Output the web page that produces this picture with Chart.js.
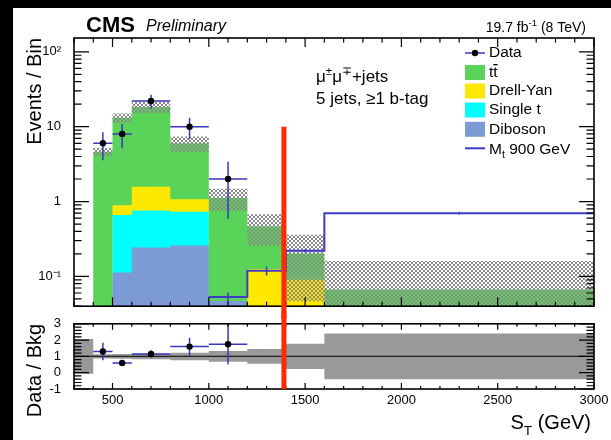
<!DOCTYPE html>
<html>
<head>
<meta charset="utf-8">
<script src="https://cdn.jsdelivr.net/npm/chart.js@4.4.1/dist/chart.umd.min.js"></script>
<style>
  body { margin: 0; background: #000; }
  #page { position: absolute; left: 13px; top: 8px; width: 598px; height: 432px; background: #fff; overflow: hidden; }
  #mainChart { position: absolute; left: 0; top: 0; }
  #ratioChart { position: absolute; left: 0; top: 303px; }
</style>
</head>
<body>
<div id="page">
  <canvas id="mainChart" width="598" height="311"></canvas>
  <canvas id="ratioChart" width="598" height="129"></canvas>
</div>
<script>
// S_T distribution, mu mu + 5 jets, >=1 b-tag
const binEdges  = [300, 400, 500, 600, 800, 1000, 1200, 1400, 1600, 3000];
const ttbar     = [0.015, 4.6, 12.3, 16.8, 4.93, 1.07, 0.34, 0.113, 0.067];
const drellYan  = [0, 0, 0.23, 0.81, 0.34, 0, 0.126, 0.09, 0];
const singleTop = [0, 0, 0.547, 0.518, 0.474, 0, 0, 0, 0];
const diboson   = [0, 0.02, 0.113, 0.243, 0.258, 0.047, 0, 0, 0];
const bkgRelUnc = [1.07, 0.13, 0.15, 0.17, 0.23, 0.33, 0.45, 0.77, 1.4];

const signalMt900 = [null, null, null, null, null, 0.053, 0.119, 0.22, 0.70];
const signalErr   = [0, 0, 0, 0, 0, 0.008, 0.016, 0.012, 0.03];

const dataX    = [450, 550, 700, 900, 1100];
const dataY    = [6, 8, 22, 10, 2];
const dataErr  = [2.45, 2.83, 4.69, 3.16, 1.41];
const ratioY   = [1.3, 0.6, 1.15, 1.6, 1.75];
const ratioErr = [0.53, 0.18, 0.22, 0.55, 1.25];

const stCut = 1390;

const FONT = '"Liberation Sans", Arial, Helvetica, sans-serif';
const C_TT = '#59d459', C_DY = '#ffe800', C_ST = '#00ffff', C_VV = '#7c9bd4';
const C_SIG = '#3c3cc8', C_ERR = '#3838bc', C_CUT = '#ff2a00';

// stacked sums, bottom to top
const cumVV = diboson.slice();
const cumST = cumVV.map((v, i) => v + singleTop[i]);
const cumDY = cumST.map((v, i) => v + drellYan[i]);
const total = cumDY.map((v, i) => v + ttbar[i]);

const pos = v => Math.max(v, 1e-4);

// histogram -> points at bin edges; with stepped 'before' each value holds up to the next edge
function steps(vals) {
  const pts = vals.map((v, i) => ({x: binEdges[i], y: v}));
  pts.push({x: binEdges[vals.length], y: vals[vals.length - 1]});
  return pts;
}
function binOf(x) {
  for (let i = 0; i < binEdges.length - 1; i++)
    if (x >= binEdges[i] && x < binEdges[i + 1]) return i;
  return -1;
}

function checker(ctx) {
  const c = document.createElement('canvas');
  c.width = c.height = 4;
  const g = c.getContext('2d');
  g.fillStyle = '#8a8a8a';
  g.fillRect(0, 0, 2, 2);
  g.fillRect(2, 2, 2, 2);
  return ctx.createPattern(c, 'repeat');
}

// tick values for the frames
const xTicks = [];
for (let v = 300; v <= 3000; v += 100) xTicks.push({v, major: v % 500 === 0});
const logTicks = [];
for (let e = -2; e <= 2; e++)
  for (let m = 1; m <= 9; m++) {
    const v = m * Math.pow(10, e);
    if (v >= 0.04 && v <= 153) logTicks.push({v, major: m === 1});
  }
const ratioTicks = [];
for (let k = 0; k <= 20; k++) ratioTicks.push({v: -1 + k * 0.2, major: k % 5 === 0});

// ROOT style frame with inward ticks on all four sides
const frameTicks = {
  id: 'frameTicks',
  afterDatasetsDraw(chart, args, o) {
    const {ctx, chartArea: a, scales} = chart;
    ctx.save();
    ctx.strokeStyle = '#000';
    ctx.lineWidth = 1.2;
    ctx.beginPath();
    for (const t of xTicks) {
      const px = scales.x.getPixelForValue(t.v);
      const l = t.major ? o.xMajor : o.xMinor;
      ctx.moveTo(px, a.bottom); ctx.lineTo(px, a.bottom - l);
      ctx.moveTo(px, a.top); ctx.lineTo(px, a.top + l);
    }
    for (const t of o.yTicks) {
      const py = scales.y.getPixelForValue(t.v);
      const l = t.major ? o.yMajor : o.yMinor;
      ctx.moveTo(a.left, py); ctx.lineTo(a.left + l, py);
      ctx.moveTo(a.right, py); ctx.lineTo(a.right - l, py);
    }
    ctx.stroke();
    ctx.lineWidth = 1.6;
    ctx.strokeRect(a.left, a.top, a.right - a.left, a.bottom - a.top);
    ctx.restore();
  }
};

// error bars drawn just before the marker dataset (index 0)
function errorBars(id, xs, ys, errs, withWidth, color, lw) {
  return {
    id,
    beforeDatasetDraw(chart, args) {
      if (args.index !== 0) return;
      const {ctx, chartArea: a, scales} = chart;
      ctx.save();
      ctx.beginPath();
      ctx.rect(a.left, a.top, a.right - a.left, a.bottom - a.top);
      ctx.clip();
      ctx.strokeStyle = color;
      ctx.lineWidth = lw;
      ctx.beginPath();
      xs.forEach((x, i) => {
        if (ys[i] == null || !errs[i]) return;
        const px = scales.x.getPixelForValue(x);
        ctx.moveTo(px, scales.y.getPixelForValue(pos(ys[i] - errs[i])));
        ctx.lineTo(px, scales.y.getPixelForValue(ys[i] + errs[i]));
        if (withWidth) {
          const b = binOf(x);
          const py = scales.y.getPixelForValue(ys[i]);
          ctx.moveTo(scales.x.getPixelForValue(binEdges[b]), py);
          ctx.lineTo(scales.x.getPixelForValue(binEdges[b + 1]), py);
        }
      });
      ctx.stroke();
      ctx.restore();
    }
  };
}

const signalTicks = {
  id: 'signalTicks',
  afterDatasetDraw(chart, args) {
    if (args.index !== 1) return;
    const {ctx, scales} = chart;
    ctx.save();
    ctx.strokeStyle = C_SIG;
    ctx.lineWidth = 1.5;
    ctx.beginPath();
    signalMt900.forEach((v, i) => {
      if (v == null) return;
      const px = scales.x.getPixelForValue((binEdges[i] + binEdges[i + 1]) / 2);
      ctx.moveTo(px, scales.y.getPixelForValue(v - signalErr[i]));
      ctx.lineTo(px, scales.y.getPixelForValue(v + signalErr[i]));
    });
    ctx.stroke();
    ctx.restore();
  }
};

// vertical S_T cut line, runs through both panels
const cutLine = {
  id: 'cutLine',
  afterDraw(chart, args, o) {
    const {ctx, chartArea: a, scales} = chart;
    const px = scales.x.getPixelForValue(stCut);
    const top = o.fromValue != null ? scales.y.getPixelForValue(o.fromValue) : 0;
    const bottom = o.fromValue != null ? chart.height : a.bottom;
    ctx.save();
    ctx.fillStyle = C_CUT;
    ctx.fillRect(px - 2.5, top, 5, bottom - top);
    ctx.restore();
  }
};

function font(size, style) {
  return (style || '') + ' ' + size + 'px ' + FONT;
}
// text pieces: [string, 0 normal | 1 superscript | -1 subscript]
function rich(ctx, parts, x, y, size, align) {
  const items = parts.map(([t, s]) => {
    ctx.font = font(s ? size * 0.68 : size);
    return {t, s, w: ctx.measureText(t).width};
  });
  const w = items.reduce((acc, it) => acc + it.w, 0);
  let cx = align === 'right' ? x - w : x;
  for (const it of items) {
    ctx.font = font(it.s ? size * 0.68 : size);
    const dy = it.s === 1 ? -size * 0.42 : it.s === -1 ? size * 0.3 : 0;
    ctx.fillText(it.t, cx, y + dy);
    cx += it.w;
  }
}

const mainTexts = {
  id: 'mainTexts',
  afterDraw(chart) {
    const ctx = chart.ctx;
    ctx.save();
    ctx.fillStyle = '#000';
    ctx.textBaseline = 'alphabetic';
    ctx.textAlign = 'left';
    ctx.font = font(22, 'bold');
    ctx.fillText('CMS', 73, 23.5);
    ctx.font = font(16, 'italic');
    ctx.fillText('Preliminary', 133, 23);
    rich(ctx, [['19.7 fb', 0], ['-1', 1], [' (8 TeV)', 0]], 573, 24, 14, 'right');

    rich(ctx, [['\u03bc', 0], ['\u00b1', 1], ['\u03bc', 0], ['\u2213', 1], ['+jets', 0]], 303, 74, 17);
    ctx.font = font(17);
    ctx.fillText('5 jets, \u22651 b-tag', 303, 96);

    // legend
    const lx = 452, tx = 476, fs = 15.5;
    const rows = [45, 64.5, 83, 102, 121.3, 140.3];
    ctx.textBaseline = 'middle';
    ctx.strokeStyle = '#6b6bd0';
    ctx.lineWidth = 2;
    ctx.beginPath(); ctx.moveTo(lx, rows[0]); ctx.lineTo(lx + 20, rows[0]); ctx.stroke();
    ctx.fillStyle = '#000';
    ctx.beginPath(); ctx.arc(lx + 10, rows[0], 3.2, 0, Math.PI * 2); ctx.fill();
    [[C_TT, 1], [C_DY, 2], [C_ST, 3], [C_VV, 4]].forEach(([c, r]) => {
      ctx.fillStyle = c;
      ctx.fillRect(lx, rows[r] - 7.5, 20, 15);
    });
    ctx.strokeStyle = C_SIG;
    ctx.beginPath(); ctx.moveTo(lx, rows[5]); ctx.lineTo(lx + 20, rows[5]); ctx.stroke();

    ctx.fillStyle = '#000';
    ctx.font = font(fs);
    ctx.fillText('Data', tx, rows[0]);
    ctx.fillText('tt', tx, rows[1]);
    const wt = ctx.measureText('t').width;
    ctx.fillRect(tx + wt, rows[1] - 8.5, wt, 1.3);
    ctx.fillText('Drell-Yan', tx, rows[2]);
    ctx.fillText('Single t', tx, rows[3]);
    ctx.fillText('Diboson', tx, rows[4]);
    ctx.textBaseline = 'alphabetic';
    rich(ctx, [['M', 0], ['t', -1], [' 900 GeV', 0]], tx, rows[5] + 5.5, fs);
    ctx.restore();
  }
};

const ratioTexts = {
  id: 'ratioTexts',
  afterDraw(chart) {
    const ctx = chart.ctx;
    ctx.save();
    ctx.fillStyle = '#000';
    ctx.textBaseline = 'alphabetic';
    rich(ctx, [['S', 0], ['T', -1], [' (GeV)', 0]], 578, 118, 20, 'right');
    ctx.restore();
  }
};

const decadeLabels = {'-1': '10\u207b\u00b9', '0': '1', '1': '10', '2': '10\u00b2'};
function decadeLabel(v) {
  const e = Math.log10(v);
  return Math.abs(e - Math.round(e)) < 1e-6 ? (decadeLabels[Math.round(e)] || '') : '';
}

const tickFont = {family: FONT, size: 13};
const titleFont = {family: FONT, size: 20};

const mainCanvas = document.getElementById('mainChart');
const hatch = checker(mainCanvas.getContext('2d'));
const line = (extra) => Object.assign({pointRadius: 0, borderWidth: 0, stepped: 'before', fill: false}, extra);

new Chart(mainCanvas, {
  type: 'line',
  data: {
    datasets: [
      {data: dataX.map((x, i) => ({x, y: dataY[i]})), showLine: false, pointRadius: 3.2,
       pointBackgroundColor: '#000', pointBorderWidth: 0},
      line({data: steps(signalMt900), borderColor: C_SIG, borderWidth: 2}),
      line({data: steps(total.map((v, i) => pos(v * (1 + bkgRelUnc[i])))), fill: '+1', backgroundColor: hatch}),
      line({data: steps(total.map((v, i) => pos(v * (1 - bkgRelUnc[i]))))}),
      line({data: steps(cumVV.map(pos)), fill: 'start', backgroundColor: C_VV}),
      line({data: steps(cumST.map(pos)), fill: 'start', backgroundColor: C_ST}),
      line({data: steps(cumDY.map(pos)), fill: 'start', backgroundColor: C_DY}),
      line({data: steps(total.map(pos)), fill: 'start', backgroundColor: C_TT})
    ]
  },
  options: {
    responsive: false,
    animation: false,
    devicePixelRatio: 1,
    layout: {padding: {left: 0, right: 17, top: 30, bottom: 0}},
    plugins: {
      legend: {display: false},
      tooltip: {enabled: false},
      frameTicks: {xMajor: 9, xMinor: 4.5, yMajor: 15, yMinor: 7.5, yTicks: logTicks},
      cutLine: {fromValue: 10}
    },
    scales: {
      x: {
        type: 'linear', min: 300, max: 3000,
        afterFit: s => { s.height = 9; },
        grid: {display: false}, border: {display: false},
        ticks: {display: false, stepSize: 100}
      },
      y: {
        type: 'logarithmic', min: 0.04, max: 153,
        afterFit: s => { s.width = 61; },
        grid: {display: false}, border: {display: false},
        ticks: {autoSkip: false, padding: 5, color: '#000', font: tickFont, callback: decadeLabel},
        title: {display: true, text: 'Events / Bin', align: 'end', color: '#000', font: titleFont,
                padding: {top: 10, bottom: 0}}
      }
    }
  },
  plugins: [frameTicks, errorBars('dataErr', dataX, dataY, dataErr, true, C_ERR, 1.5), signalTicks, cutLine, mainTexts]
});

new Chart(document.getElementById('ratioChart'), {
  type: 'line',
  data: {
    datasets: [
      {data: dataX.map((x, i) => ({x, y: ratioY[i]})), showLine: false, pointRadius: 3.2,
       pointBackgroundColor: '#000', pointBorderWidth: 0},
      {data: [{x: 300, y: 1}, {x: 3000, y: 1}], borderColor: '#222', borderWidth: 1.2, pointRadius: 0, fill: false},
      line({data: steps(bkgRelUnc.map(u => 1 + u)), fill: '+1', backgroundColor: '#999999'}),
      line({data: steps(bkgRelUnc.map(u => 1 - u))})
    ]
  },
  options: {
    responsive: false,
    animation: false,
    devicePixelRatio: 1,
    layout: {padding: {left: 0, right: 17, top: 8, bottom: 0}},
    plugins: {
      legend: {display: false},
      tooltip: {enabled: false},
      frameTicks: {xMajor: 6, xMinor: 3, yMajor: 15, yMinor: 7.5, yTicks: ratioTicks},
      cutLine: {fromValue: null}
    },
    scales: {
      x: {
        type: 'linear', min: 300, max: 3000,
        afterFit: s => { s.height = 51; },
        grid: {display: false}, border: {display: false},
        ticks: {stepSize: 100, autoSkip: false, maxRotation: 0, padding: -4, color: '#000', font: tickFont,
                callback: v => (v % 500 === 0 ? String(v) : '')}
      },
      y: {
        type: 'linear', min: -1, max: 3,
        afterFit: s => { s.width = 61; },
        grid: {display: false}, border: {display: false},
        ticks: {stepSize: 1, autoSkip: false, padding: 5, color: '#000', font: tickFont, callback: v => String(v)},
        title: {display: true, text: 'Data / Bkg', align: 'end', color: '#000', font: titleFont,
                padding: {top: 10, bottom: 0}}
      }
    }
  },
  plugins: [frameTicks, errorBars('ratioErr', dataX, ratioY, ratioErr, true, C_ERR, 1.5), cutLine, ratioTexts]
});
</script>
</body>
</html>
